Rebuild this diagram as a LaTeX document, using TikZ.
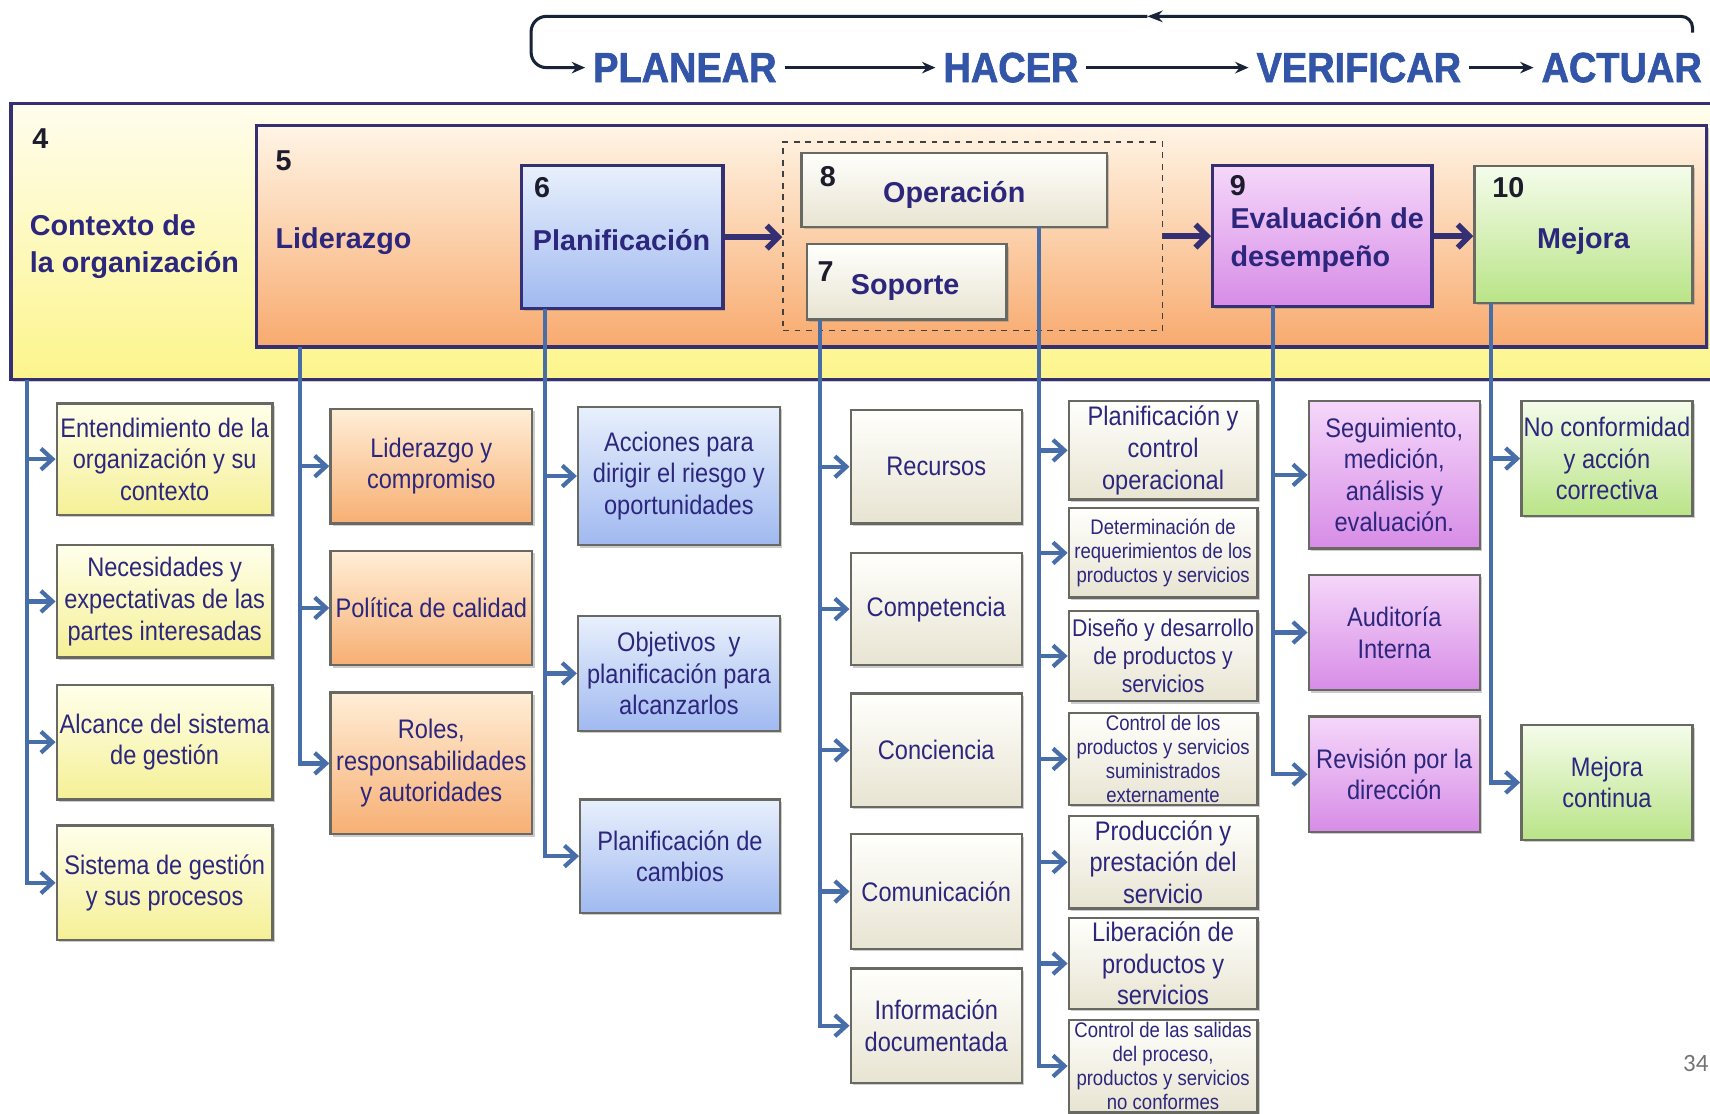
\documentclass[tikz,border=0pt]{standalone}
\usepackage{fontspec}
\setmainfont{Liberation Sans}
\newfontfamily\boxfont[FakeStretch=0.88]{Liberation Sans}
\newfontfamily\pdcafont[FakeStretch=0.9,FakeBold=1.6]{Liberation Sans Bold}
\newfontfamily\pagefont{Carlito}
\usetikzlibrary{arrows.meta,fit,shadows}
\definecolor{ink}{RGB}{44,38,125}
\definecolor{numink}{RGB}{28,28,45}
\definecolor{frame}{RGB}{52,48,115}
\definecolor{boxframe}{RGB}{105,105,100}
\definecolor{feedblue}{RGB}{72,110,170}
\definecolor{pdcablue}{RGB}{50,85,168}
\definecolor{loopink}{RGB}{25,35,55}
\tikzset{
  boxsize/.style 2 args={
    minimum width=#1*0.02cm,
    minimum height=#2*0.02cm,
  },
}
\tikzstyle{box} = [
  draw=boxframe,
  line width=1.2pt,
  rectangle,
  inner sep=0pt,
  align=center,
  text=ink,
  font=\boxfont\fontsize{14}{16.5}\selectfont,
  drop shadow={shadow xshift=1.2pt, shadow yshift=-1.2pt, opacity=0.4},
]
\tikzstyle{ctxbox} = [
  box,
  top color={rgb,255:red,255;green,255;blue,235},
  bottom color={rgb,255:red,245;green,240;blue,150},
]
\tikzstyle{leadbox} = [
  box,
  top color={rgb,255:red,255;green,238;blue,215},
  bottom color={rgb,255:red,247;green,175;blue,115},
]
\tikzstyle{planbox} = [
  box,
  top color={rgb,255:red,232;green,240;blue,252},
  bottom color={rgb,255:red,160;green,185;blue,240},
]
\tikzstyle{supbox} = [
  box,
  top color={rgb,255:red,255;green,255;blue,252},
  bottom color={rgb,255:red,232;green,228;blue,210},
]
\tikzstyle{evalbox} = [
  box,
  top color={rgb,255:red,245;green,215;blue,250},
  bottom color={rgb,255:red,215;green,140;blue,230},
]
\tikzstyle{mejbox} = [
  box,
  top color={rgb,255:red,245;green,252;blue,235},
  bottom color={rgb,255:red,185;green,228;blue,135},
]
\tikzstyle{small} = [
  font=\boxfont\fontsize{11}{12.5}\selectfont,
]
\tikzstyle{head} = [
  inner sep=0pt,
  align=center,
  text=ink,
  font=\bfseries\fontsize{15}{19.4}\selectfont,
]
\tikzstyle{num} = [
  inner sep=0pt,
  text=numink,
  font=\bfseries\fontsize{15}{18}\selectfont,
]
\tikzstyle{pdca} = [
  inner sep=4pt,
  text=pdcablue,
  font=\pdcafont\fontsize{22}{24}\selectfont,
]
\tikzstyle{pdcaarrow} = [
  draw=loopink,
  line width=1.6pt,
  -{Stealth[length=7pt,width=6pt]},
]
\tikzstyle{loopline} = [
  draw=loopink,
  line width=1.6pt,
]
\tikzstyle{flow} = [
  draw=frame,
  line width=3pt,
  -{Straight Barb[length=6pt,width=12pt]},
]
\tikzstyle{feed} = [
  draw=feedblue,
  line width=2.2pt,
  -{Straight Barb[length=6pt,width=11pt]},
]

\begin{document}
\begin{tikzpicture}[
    x=0.02cm,
    y=-0.02cm,
  ]
  \useasboundingbox (0,0) rectangle (1568,1021);

  \node[pdca] (planear) at (628,62) {PLANEAR};
  \node[pdca] (hacer) at (927,62) {HACER};
  \node[pdca] (verificar) at (1246,62) {VERIFICAR};
  \node[pdca] (actuar) at (1487,62) {ACTUAR};
  \draw[pdcaarrow] (planear.east) -- (hacer.west);
  \draw[pdcaarrow] (hacer.east) -- (verificar.west);
  \draw[pdcaarrow] (verificar.east) -- (actuar.west);
  \coordinate (loopr) at (1552,30);
  \coordinate (loopmid) at (1052,15);
  \coordinate (loopl) at (487,62);
  \draw[loopline, rounded corners=6pt, -{Stealth[length=8pt,width=6pt]}] (loopr) |- (loopmid);
  \draw[loopline, rounded corners=8pt, -{Stealth[length=7pt,width=6pt]}] (loopmid) -| (loopl) -- (planear.west);

  \node[
    ctxbox,
    draw=frame,
    line width=1.8pt,
    top color={rgb,255:red,255;green,253;blue,238},
    bottom color={rgb,255:red,252;green,245;blue,140},
    fit={(10,95) (1580,348)},
  ](ctx){};
  \node[
    leadbox,
    draw=frame,
    line width=1.8pt,
    top color={rgb,255:red,255;green,245;blue,230},
    bottom color={rgb,255:red,248;green,170;blue,110},
    fit={(235,115) (1565,318)},
  ](lead){};
  \node[num] (n4) at (37,127) {4};
  \node[head, align=left, anchor=west] (ctxt) at (27,226) {Contexto de\\la organización};
  \node[num] (n5) at (260,147) {5};
  \node[head] (leadt) at (315,221) {Liderazgo};

  \node[planbox, draw=frame, line width=1.8pt, fit={(478,152) (663,283)}] (plan) {};
  \node[num] (n6) at (497,172) {6};
  \node[head] (plant) at (570,220) {Planificación};

  \node[draw=black!75, dashed, line width=0.8pt, inner sep=0pt, fit={(718,130) (1066,303)}] (do) {};
  \node[supbox, fit={(735,140) (1015,208)}] (oper) {};
  \node[num] (n8) at (759,162) {8};
  \node[head] (opert) at (875,179) {Operación};
  \node[supbox, fit={(740,224) (923,293)}] (sop) {};
  \node[num] (n7) at (757,249) {7};
  \node[head] (sopt) at (830,264) {Soporte};

  \node[evalbox, draw=frame, line width=1.8pt, fit={(1112,152) (1313,281)}] (eval) {};
  \node[num] (n9) at (1135,170) {9};
  \node[head, align=left, anchor=west] (evalt) at (1128,220) {Evaluación de\\desempeño};
  \node[mejbox, fit={(1352,152) (1552,278)}] (mej) {};
  \node[num] (n10) at (1383,172) {10};
  \node[head] (mejt) at (1452,221) {Mejora};

  \draw[flow] (plan.east) -- (plan.east -| do.west);
  \draw[flow] (do.east |- eval.west) -- (eval.west);
  \draw[flow] (eval.east) -- (eval.east -| mej.west);

  \node[ctxbox, boxsize={198}{102}] (c1) at (151,421) {Entendimiento de la\\organización y su\\contexto};
  \node[ctxbox, boxsize={198}{103}] (c2) at (151,551.5) {Necesidades y\\expectativas de las\\partes interesadas};
  \node[ctxbox, boxsize={198}{105}] (c3) at (151,680.5) {Alcance del sistema\\de gestión};
  \node[ctxbox, boxsize={198}{105}] (c4) at (151,809.5) {Sistema de gestión\\y sus procesos};

  \node[leadbox, boxsize={185}{105}] (l1) at (395.5,427.5) {Liderazgo y\\compromiso};
  \node[leadbox, boxsize={185}{105}] (l2) at (395.5,557.5) {Política de calidad};
  \node[leadbox, boxsize={185}{130}] (l3) at (395.5,700) {Roles,\\responsabilidades\\y autoridades};

  \node[planbox, boxsize={185}{127}] (p1) at (622.5,436.5) {Acciones para\\dirigir el riesgo y\\oportunidades};
  \node[planbox, boxsize={185}{105}] (p2) at (622.5,617.5) {Objetivos\ \ y\\planificación para\\alcanzarlos};
  \node[planbox, boxsize={183}{104}] (p3) at (623.5,785) {Planificación de\\cambios};

  \node[supbox, boxsize={157}{104}] (s1) at (858.5,428) {Recursos};
  \node[supbox, boxsize={157}{103}] (s2) at (858.5,558.5) {Competencia};
  \node[supbox, boxsize={157}{104}] (s3) at (858.5,688) {Conciencia};
  \node[supbox, boxsize={157}{105}] (s4) at (858.5,817.5) {Comunicación};
  \node[supbox, boxsize={157}{105}] (s5) at (858.5,940.5) {Información\\documentada};

  \node[supbox, boxsize={173}{90}] (o1) at (1066.5,413) {Planificación y\\control\\operacional};
  \node[supbox, small, boxsize={173}{82}] (o2) at (1066.5,507) {Determinación de\\requerimientos de los\\productos y servicios};
  \node[supbox, font=\boxfont\fontsize{12.6}{14.5}\selectfont, boxsize={173}{83}] (o3) at (1066.5,601.5) {Diseño y desarrollo\\de productos y\\servicios};
  \node[supbox, small, boxsize={173}{84}] (o4) at (1066.5,696) {Control de los\\productos y servicios\\suministrados\\externamente};
  \node[supbox, boxsize={173}{85}] (o5) at (1066.5,790.5) {Producción y\\prestación del\\servicio};
  \node[supbox, boxsize={173}{83}] (o6) at (1066.5,883.5) {Liberación de\\productos y\\servicios};
  \node[supbox, small, boxsize={173}{85}] (o7) at (1066.5,977.5) {Control de las salidas\\del proceso,\\productos y servicios\\no conformes};

  \node[evalbox, boxsize={157}{135}] (v1) at (1278.5,435.5) {Seguimiento,\\medición,\\análisis y\\evaluación.};
  \node[evalbox, boxsize={157}{106}] (v2) at (1278.5,580) {Auditoría\\Interna};
  \node[evalbox, boxsize={157}{106}] (v3) at (1278.5,710) {Revisión por la\\dirección};

  \node[mejbox, boxsize={157}{105}] (m1) at (1473.5,420.5) {No conformidad\\y acción\\correctiva};
  \node[mejbox, boxsize={157}{105}] (m2) at (1473.5,717.5) {Mejora\\continua};

  \coordinate (tr4) at (25,348);
  \coordinate (tr5) at (275,318);
  \coordinate (tr6) at (500,283);
  \coordinate (tr7) at (752,293);
  \coordinate (tr8) at (953,208);
  \coordinate (tr9) at (1167,281);
  \coordinate (tr10) at (1367,278);

  \draw[feed] (tr4) |- (c1.west);
  \draw[feed] (tr4) |- (c2.west);
  \draw[feed] (tr4) |- (c3.west);
  \draw[feed] (tr4) |- (c4.west);
  \draw[feed] (tr5) |- (l1.west);
  \draw[feed] (tr5) |- (l2.west);
  \draw[feed] (tr5) |- (l3.west);
  \draw[feed] (tr6) |- (p1.west);
  \draw[feed] (tr6) |- (p2.west);
  \draw[feed] (tr6) |- (p3.west);
  \draw[feed] (tr7) |- (s1.west);
  \draw[feed] (tr7) |- (s2.west);
  \draw[feed] (tr7) |- (s3.west);
  \draw[feed] (tr7) |- (s4.west);
  \draw[feed] (tr7) |- (s5.west);
  \draw[feed] (tr8) |- (o1.west);
  \draw[feed] (tr8) |- (o2.west);
  \draw[feed] (tr8) |- (o3.west);
  \draw[feed] (tr8) |- (o4.west);
  \draw[feed] (tr8) |- (o5.west);
  \draw[feed] (tr8) |- (o6.west);
  \draw[feed] (tr8) |- (o7.west);
  \draw[feed] (tr9) |- (v1.west);
  \draw[feed] (tr9) |- (v2.west);
  \draw[feed] (tr9) |- (v3.west);
  \draw[feed] (tr10) |- (m1.west);
  \draw[feed] (tr10) |- (m2.west);

  \node[text=black!55, font=\pagefont\fontsize{13}{15}\selectfont] (page) at (1555,975) {34};
\end{tikzpicture}
\end{document}
